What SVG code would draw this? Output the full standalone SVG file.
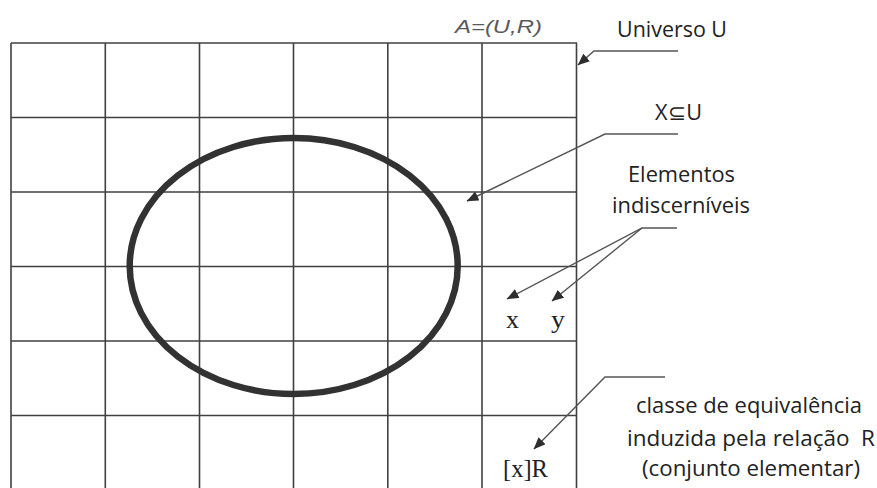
<svg xmlns="http://www.w3.org/2000/svg" width="877" height="488" viewBox="0 0 877 488">
<style>
.bg{fill:#ffffff}
.grid line{stroke:#404040;stroke-width:1.6}
.ell{fill:none;stroke:#323232;stroke-width:6.5}
.conn{fill:none;stroke:#555555;stroke-width:1.4}
.lbl{font-family:"Open Sans","Liberation Sans",sans-serif;font-size:21px;fill:#222}
.ser{font-family:"Liberation Serif","Times New Roman",serif;font-size:25px;fill:#222}
.it{font-family:"Liberation Sans",Arial,sans-serif;font-size:19px;font-style:italic;fill:#5a5a5a}
</style>
<defs>
<marker id="ah" markerUnits="userSpaceOnUse" markerWidth="12" markerHeight="10" viewBox="0 0 12 10" refX="11.5" refY="5" orient="auto">
<path d="M0,0 L12,5 L0,10 Z" fill="#2e2e2e"/>
</marker>
</defs>
<rect class="bg" x="0" y="0" width="877" height="488"/>
<g id="universe-grid" class="grid">
<line x1="11" y1="43" x2="577" y2="43"/>
<line x1="11" y1="117.5" x2="577" y2="117.5"/>
<line x1="11" y1="192" x2="577" y2="192"/>
<line x1="11" y1="266.5" x2="577" y2="266.5"/>
<line x1="11" y1="341" x2="577" y2="341"/>
<line x1="11" y1="415.5" x2="577" y2="415.5"/>
<line x1="11" y1="43" x2="11" y2="488"/>
<line x1="105.3" y1="43" x2="105.3" y2="488"/>
<line x1="199.5" y1="43" x2="199.5" y2="488"/>
<line x1="293.5" y1="43" x2="293.5" y2="488"/>
<line x1="387.8" y1="43" x2="387.8" y2="488"/>
<line x1="482" y1="43" x2="482" y2="488"/>
<line x1="576.5" y1="43" x2="576.5" y2="488"/>
</g>
<g id="set-X">
<ellipse class="ell" cx="293.7" cy="266" rx="164" ry="128"/>
</g>
<g id="connectors">
<polyline class="conn" points="678,51 594,51 578,65" marker-end="url(#ah)"/>
<polyline class="conn" points="678,134 605,134 467,201" marker-end="url(#ah)"/>
<polyline class="conn" points="677,228 642,228 507,299" marker-end="url(#ah)"/>
<polyline class="conn" points="642,228 552,301" marker-end="url(#ah)"/>
<polyline class="conn" points="665,377 605,377 534,449" marker-end="url(#ah)"/>
</g>
<g id="label-A">
<text class="it" x="455" y="33" textLength="87" lengthAdjust="spacingAndGlyphs">A=(U,R)</text>
</g>
<g id="label-universo">
<text class="lbl" x="617" y="37" textLength="110" lengthAdjust="spacingAndGlyphs">Universo U</text>
</g>
<g id="label-X">
<text class="lbl" x="655" y="120" textLength="47" lengthAdjust="spacingAndGlyphs">X⊆U</text>
</g>
<g id="label-elementos">
<text class="lbl" x="628" y="182" textLength="107" lengthAdjust="spacingAndGlyphs">Elementos</text>
<text class="lbl" x="612" y="213" textLength="138" lengthAdjust="spacingAndGlyphs">indiscerníveis</text>
</g>
<g id="label-x">
<text class="ser" x="506" y="328" textLength="13" lengthAdjust="spacingAndGlyphs">x</text>
</g>
<g id="label-y">
<text class="ser" x="551" y="328" textLength="14" lengthAdjust="spacingAndGlyphs">y</text>
</g>
<g id="label-xR">
<text class="ser" x="503" y="477" textLength="45" lengthAdjust="spacingAndGlyphs">[x]R</text>
</g>
<g id="label-classe">
<text class="lbl" x="636" y="413" textLength="226" lengthAdjust="spacingAndGlyphs">classe de equivalência</text>
<text class="lbl" x="627" y="446" textLength="248" lengthAdjust="spacingAndGlyphs" xml:space="preserve">induzida pela relação  R</text>
<text class="lbl" x="642" y="476" textLength="218" lengthAdjust="spacingAndGlyphs">(conjunto elementar)</text>
</g>
</svg>
